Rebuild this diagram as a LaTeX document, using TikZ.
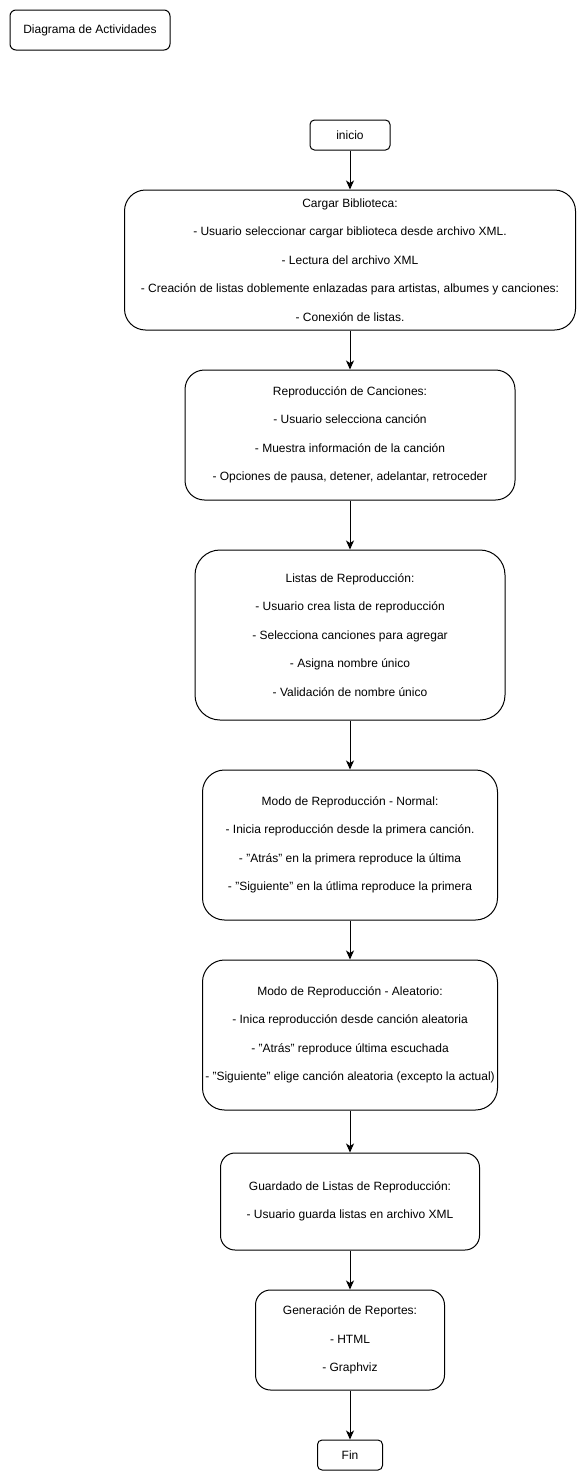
\documentclass[tikz,border=0pt]{standalone}
\usepackage{fontspec}
\setmainfont{Liberation Sans}
\usetikzlibrary{arrows.meta}
\begin{document}
\begin{tikzpicture}[x=1pt,y=-1pt,
  box/.style={draw=black,line width=1pt,fill=white,inner sep=0pt,align=center,
    font=\fontsize{12}{28.5}\selectfont},
  arr/.style={draw=black,line width=1pt,-{Stealth[length=9pt,width=8pt,inset=2.5pt]}}]
\useasboundingbox (0,0) rectangle (586,1481);
\node[box,rounded corners=6pt,minimum width=160pt,minimum height=40pt] (title) at (90,30) {Diagrama de Actividades};
\node[box,rounded corners=4.5pt,minimum width=80pt,minimum height=30pt] (inicio) at (350,135) {inicio};
\node[box,rounded corners=21pt,minimum width=451pt,minimum height=140pt] (cargar) at (350,260) {Cargar Biblioteca:\\- Usuario seleccionar cargar biblioteca desde archivo XML.\\- Lectura del archivo XML\\- Creación de listas doblemente enlazadas para artistas, albumes y canciones:\\- Conexión de listas.};
\node[box,rounded corners=19.5pt,minimum width=330pt,minimum height=130pt] (repro) at (350,435) {Reproducción de Canciones:\\- Usuario selecciona canción\\- Muestra información de la canción\\- Opciones de pausa, detener, adelantar, retroceder};
\node[box,rounded corners=25pt,minimum width=310pt,minimum height=170pt] (listas) at (350,635) {Listas de Reproducción:\\- Usuario crea lista de reproducción\\- Selecciona canciones para agregar\\- Asigna nombre único\\- Validación de nombre único};
\node[box,rounded corners=22pt,minimum width=295pt,minimum height=150pt] (normal) at (350,845) {Modo de Reproducción - Normal:\\- Inicia reproducción desde la primera canción.\\- "Atrás" en la primera reproduce la última\\- "Siguiente" en la útlima reproduce la primera};
\node[box,rounded corners=22pt,minimum width=295pt,minimum height=150pt] (aleat) at (350,1035) {Modo de Reproducción - Aleatorio:\\- Inica reproducción desde canción aleatoria\\- "Atrás" reproduce última escuchada\\- "Siguiente" elige canción aleatoria (excepto la actual)};
\node[box,rounded corners=14.5pt,minimum width=259pt,minimum height=97pt] (guard) at (350,1201.5) {Guardado de Listas de Reproducción:\\- Usuario guarda listas en archivo XML};
\node[box,rounded corners=15pt,minimum width=189pt,minimum height=100pt] (gen) at (350,1340) {Generación de Reportes:\\- HTML\\- Graphviz};
\node[box,rounded corners=4.5pt,minimum width=65pt,minimum height=30pt] (fin) at (350,1455) {Fin};
\draw[arr] (inicio.south) -- (cargar.north);
\draw[arr] (cargar.south) -- (repro.north);
\draw[arr] (repro.south) -- (listas.north);
\draw[arr] (listas.south) -- (normal.north);
\draw[arr] (normal.south) -- (aleat.north);
\draw[arr] (aleat.south) -- (guard.north);
\draw[arr] (guard.south) -- (gen.north);
\draw[arr] (gen.south) -- (fin.north);
\end{tikzpicture}
\end{document}
